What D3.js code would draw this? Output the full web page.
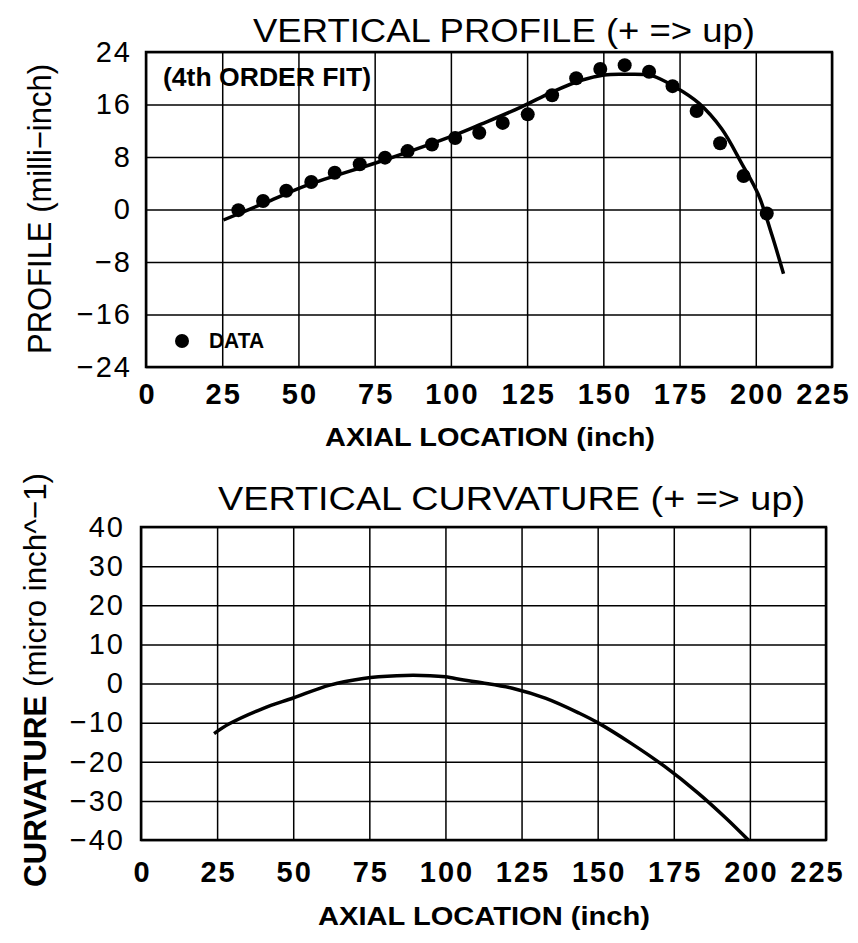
<!DOCTYPE html>
<html>
<head>
<meta charset="utf-8">
<script src="https://cdn.jsdelivr.net/npm/d3@7"></script>
<style>
  body { margin: 0; background: #fff; }
  text { font-family: "Liberation Sans", Arial, sans-serif; fill: #000; }
</style>
</head>
<body>
<div id="container"></div>
<script>
// tick values
var xTicks = [0, 25, 50, 75, 100, 125, 150, 175, 200, 225];
var profTicks = [-24, -16, -8, 0, 8, 16, 24];
var curvTicks = [-40, -30, -20, -10, 0, 10, 20, 30, 40];

// profile data points (inch, milli-inch)
var profX = [30.3, 38.4, 46.0, 54.2, 61.9, 70.1, 78.4, 85.8, 93.8, 101.4, 109.3, 117.0,
             125.2, 133.2, 141.1, 149.0, 157.0, 165.0, 172.7, 180.6, 188.3, 196.0, 203.6];
var profY = [-0.1, 1.3, 2.85, 4.2, 5.6, 6.9, 7.9, 8.9, 9.9, 10.9, 11.7, 13.2,
             14.5, 17.4, 20.0, 21.4, 22.0, 21.0, 18.8, 15.0, 10.1, 5.1, -0.6];

// 4th order fit line
var fitX = [25.4, 40, 52.9, 78.0, 101.0, 109.9, 123.0, 133.2, 142.8, 150.3, 156.9,
            165.8, 173.4, 181.3, 188.8, 195.4, 200.9, 205.3, 209.1];
var fitY = [-1.6, 1.2, 3.7, 7.5, 11.3, 13.0, 15.6, 17.9, 19.7, 20.5, 20.6,
            20.4, 18.7, 16.2, 12.3, 7.0, 2.2, -3.9, -9.8];

// curvature line (micro inch^-1)
var curvX = [24, 29, 40, 50, 62, 73, 84, 95, 100, 106, 112, 122, 133, 144, 150,
             161, 172, 183, 192, 199.5];
var curvY = [-12.8, -10.3, -6.4, -3.7, -0.4, 1.3, 2.0, 2.0, 1.7, 0.9, 0.2, -1.2, -3.8, -7.6, -10.0,
             -15.3, -21.2, -28.0, -34.3, -40.0];

var width = 858, height = 943;

var svg = d3.select("#container")
            .append("svg")
            .attr("width", width)
            .attr("height", height);

function zip(xs, ys) {
  return xs.map(function(d, i) { return [d, ys[i]]; });
}

// draws one framed grid panel, returns the scales
function panel(box, yDomain, yTicks, xPad, yPad) {
  var x = d3.scaleLinear().domain([0, 225]).range([box.left, box.right]);
  var y = d3.scaleLinear().domain(yDomain).range([box.bottom, box.top]);
  var w = box.right - box.left, h = box.bottom - box.top;

  var gx = svg.append("g")
              .attr("transform", "translate(0," + box.bottom + ")")
              .call(d3.axisBottom(x).tickValues(xTicks).tickSizeInner(-h).tickSizeOuter(0).tickPadding(xPad));
  gx.select(".domain").remove();
  gx.selectAll("line").attr("stroke", "#000").attr("stroke-width", 1.5);
  gx.selectAll("text")
    .style("font-size", "29px")
    .style("font-weight", "bold")
    .style("letter-spacing", "2px")
    .attr("dx", function(d) { return d === 225 ? -9 : 1; });

  var gy = svg.append("g")
              .attr("transform", "translate(" + box.left + ",0)")
              .call(d3.axisLeft(y).tickValues(yTicks).tickSizeInner(-w).tickSizeOuter(0).tickPadding(yPad)
                      .tickFormat(function(d) { return d < 0 ? "\u2212" + (-d) : d; }));
  gy.select(".domain").remove();
  gy.selectAll("line").attr("stroke", "#000").attr("stroke-width", 1.5);
  gy.selectAll("text")
    .style("font-size", "29px")
    .style("letter-spacing", "2px");

  svg.append("rect")
     .attr("x", box.left)
     .attr("y", box.top)
     .attr("width", w)
     .attr("height", h)
     .attr("fill", "none")
     .attr("stroke", "#000")
     .attr("stroke-width", 2.5);

  return { x: x, y: y };
}

// ---- top: vertical profile
var topP = panel({ left: 146, right: 832, top: 52, bottom: 367 }, [-24, 24], profTicks, 16, 14);

var line1 = d3.line()
              .x(function(d) { return topP.x(d[0]); })
              .y(function(d) { return topP.y(d[1]); })
              .curve(d3.curveCatmullRom);

svg.append("path")
   .attr("d", line1(zip(fitX, fitY)))
   .attr("fill", "none")
   .attr("stroke", "#000")
   .attr("stroke-width", 3.5);

svg.selectAll(".dot")
   .data(zip(profX, profY))
   .enter().append("circle")
   .attr("class", "dot")
   .attr("cx", function(d) { return topP.x(d[0]); })
   .attr("cy", function(d) { return topP.y(d[1]); })
   .attr("r", 7)
   .attr("fill", "#000");

svg.append("text")
   .attr("x", 163).attr("y", 86)
   .attr("textLength", 208).attr("lengthAdjust", "spacingAndGlyphs")
   .style("font-size", "25px").style("font-weight", "bold")
   .text("(4th ORDER FIT)");

// legend
svg.append("circle").attr("cx", 182).attr("cy", 341).attr("r", 7).attr("fill", "#000");
svg.append("text")
   .attr("x", 209).attr("y", 348)
   .attr("textLength", 55).attr("lengthAdjust", "spacingAndGlyphs")
   .style("font-size", "22px").style("font-weight", "bold")
   .text("DATA");

svg.append("text")
   .attr("x", 253).attr("y", 42)
   .attr("textLength", 502).attr("lengthAdjust", "spacingAndGlyphs")
   .style("font-size", "33px")
   .text("VERTICAL PROFILE (+ => up)");

svg.append("text")
   .attr("x", 325).attr("y", 446)
   .attr("textLength", 330).attr("lengthAdjust", "spacingAndGlyphs")
   .style("font-size", "25px").style("font-weight", "bold")
   .text("AXIAL LOCATION (inch)");

svg.append("text")
   .attr("transform", "translate(51,209) rotate(-90)")
   .attr("text-anchor", "middle")
   .attr("textLength", 290).attr("lengthAdjust", "spacingAndGlyphs")
   .style("font-size", "33px")
   .text("PROFILE (milli\u2212inch)");

// ---- bottom: vertical curvature
var botP = panel({ left: 141, right: 826, top: 527, bottom: 840 }, [-40, 40], curvTicks, 21, 16);

var line2 = d3.line()
              .x(function(d) { return botP.x(d[0]); })
              .y(function(d) { return botP.y(d[1]); })
              .curve(d3.curveCatmullRom);

svg.append("path")
   .attr("d", line2(zip(curvX, curvY)))
   .attr("fill", "none")
   .attr("stroke", "#000")
   .attr("stroke-width", 3.5);

svg.append("text")
   .attr("x", 218).attr("y", 510)
   .attr("textLength", 587).attr("lengthAdjust", "spacingAndGlyphs")
   .style("font-size", "33px")
   .text("VERTICAL CURVATURE (+ => up)");

svg.append("text")
   .attr("x", 318).attr("y", 925)
   .attr("textLength", 332).attr("lengthAdjust", "spacingAndGlyphs")
   .style("font-size", "25px").style("font-weight", "bold")
   .text("AXIAL LOCATION (inch)");

var yl = svg.append("text")
            .attr("transform", "translate(46,680) rotate(-90)")
            .attr("text-anchor", "middle")
            .attr("textLength", 414).attr("lengthAdjust", "spacingAndGlyphs")
            .style("font-size", "32px");
yl.append("tspan").style("font-weight", "bold").text("CURVATURE");
yl.append("tspan").text(" (micro inch^\u22121)");
</script>
</body>
</html>
